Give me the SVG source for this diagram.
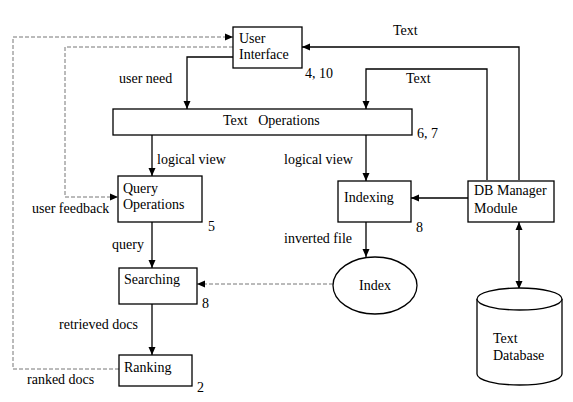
<svg xmlns="http://www.w3.org/2000/svg" width="573" height="402" viewBox="0 0 573 402">
<defs>
<marker id="ah" viewBox="0 0 8 8" refX="8" refY="4" markerWidth="8" markerHeight="8" markerUnits="userSpaceOnUse" orient="auto">
<path d="M0,0.5 L8,4 L0,7.5 Z" fill="#000"/>
</marker>
<marker id="ahs" viewBox="0 0 8 8" refX="8" refY="4" markerWidth="8" markerHeight="8" markerUnits="userSpaceOnUse" orient="auto-start-reverse">
<path d="M0,0.5 L8,4 L0,7.5 Z" fill="#000"/>
</marker>
</defs>
<style>
text{font-family:"Liberation Serif","Times New Roman",serif;font-size:14px;fill:#000;white-space:pre}
.box{fill:#fff;stroke:#000;stroke-width:1.3}
.c{fill:none;stroke:#000;stroke-width:1.3}
.d{fill:none;stroke:#777;stroke-width:1;stroke-dasharray:4,2}
</style>
<rect width="573" height="402" fill="#fff"/>
<g id="connectors">
<polyline class="c" points="233,57 187,57 187,109" marker-end="url(#ah)"/>
<polyline class="c" points="519,180 519,47 302,47" marker-end="url(#ah)"/>
<polyline class="c" points="487,180 487,69 366,69 366,109" marker-end="url(#ah)"/>
<line class="c" x1="152" y1="135" x2="152" y2="176" marker-end="url(#ah)"/>
<line class="c" x1="366" y1="135" x2="366" y2="181" marker-end="url(#ah)"/>
<line class="c" x1="468" y1="198" x2="411" y2="198" marker-end="url(#ah)"/>
<line class="c" x1="519" y1="222" x2="519" y2="289" marker-start="url(#ahs)" marker-end="url(#ah)"/>
<line class="c" x1="366" y1="222" x2="366" y2="257" marker-end="url(#ah)"/>
<line class="c" x1="152" y1="222" x2="152" y2="268" marker-end="url(#ah)"/>
<line class="c" x1="152" y1="304" x2="152" y2="355" marker-end="url(#ah)"/>
<line class="d" x1="333" y1="284" x2="197" y2="284" marker-end="url(#ah)"/>
<polyline class="d" points="119,369 13,369 13,37 233,37" marker-end="url(#ah)"/>
<polyline class="d" points="233,47 65,47 65,197 118,197" marker-end="url(#ah)"/>
<text x="393" y="35">Text</text>
<text x="406" y="83">Text</text>
<text x="119" y="83">user need</text>
<text x="157" y="164">logical view</text>
<text x="284" y="164">logical view</text>
<text x="32" y="213">user feedback</text>
<text x="112" y="249">query</text>
<text x="284" y="243">inverted file</text>
<text x="59" y="329">retrieved docs</text>
<text x="27" y="384">ranked docs</text>
</g>
<g id="user-interface">
<rect class="box" x="233" y="27" width="69" height="41"/>
<text x="239" y="43">User</text>
<text x="239" y="59">Interface</text>
<text x="305" y="78">4, 10</text>
</g>
<g id="text-operations">
<rect class="box" x="113" y="109" width="299" height="26"/>
<text x="223" y="125">Text   Operations</text>
<text x="417" y="138">6, 7</text>
</g>
<g id="query-operations">
<rect class="box" x="118" y="176" width="84" height="46"/>
<text x="123" y="193">Query</text>
<text x="123" y="209">Operations</text>
<text x="208" y="231">5</text>
</g>
<g id="indexing">
<rect class="box" x="338" y="181" width="73" height="41"/>
<text x="344" y="202">Indexing</text>
<text x="416" y="232">8</text>
</g>
<g id="db-manager">
<rect class="box" x="468" y="181" width="86" height="41"/>
<text x="474" y="195">DB Manager</text>
<text x="474" y="213">Module</text>
</g>
<g id="index">
<ellipse class="box" cx="375" cy="285.5" rx="42" ry="28.5"/>
<text x="375" y="290" text-anchor="middle">Index</text>
</g>
<g id="searching">
<rect class="box" x="119" y="268" width="78" height="36"/>
<text x="124" y="284">Searching</text>
<text x="202" y="308">8</text>
</g>
<g id="ranking">
<rect class="box" x="119" y="355" width="73" height="31"/>
<text x="124" y="372">Ranking</text>
<text x="197" y="392">2</text>
</g>
<g id="text-database">
<path class="box" d="M477,299 L477,374 A42.5,11 0 0 0 562,374 L562,299"/>
<ellipse class="box" cx="519.5" cy="299" rx="42.5" ry="11"/>
<text x="493" y="343">Text</text>
<text x="493" y="360">Database</text>
</g>
</svg>
